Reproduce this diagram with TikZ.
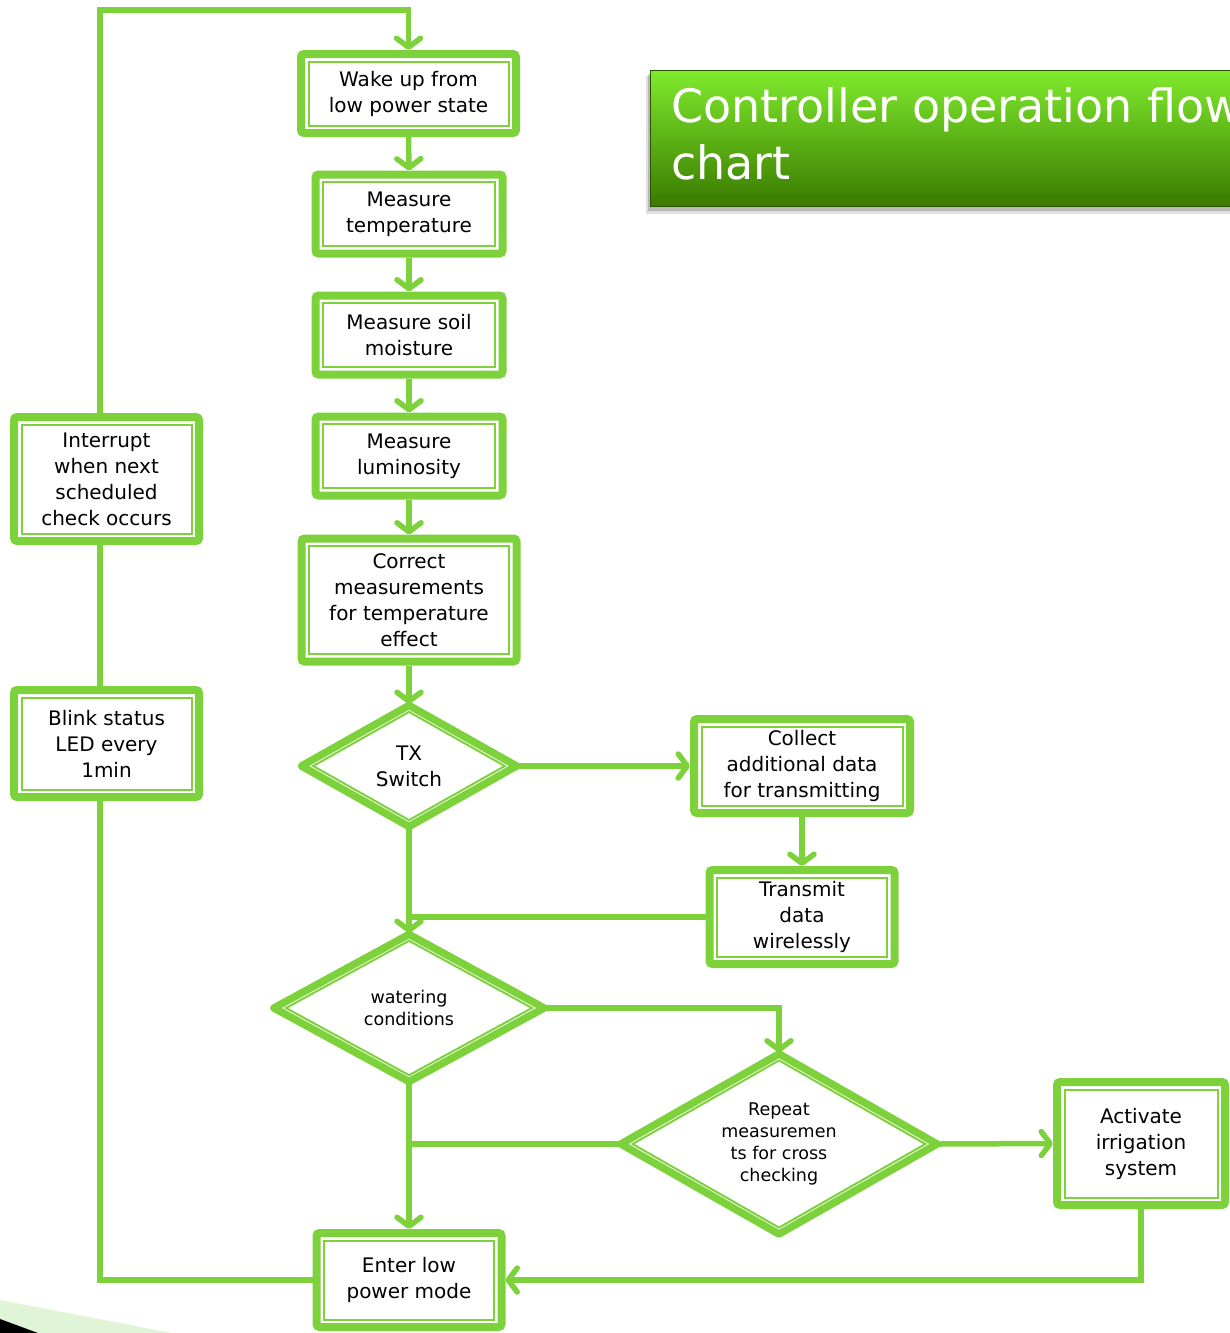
\documentclass[tikz,border=0pt]{standalone}
\usepackage{fontspec}
\setmainfont{DejaVu Sans}
\usetikzlibrary{arrows.meta,shapes.geometric,calc}
\definecolor{fg}{RGB}{125,210,60}
\definecolor{ttop}{RGB}{128,235,45}
\definecolor{tbot}{RGB}{58,122,0}
\definecolor{pale}{RGB}{224,244,216}
\tikzset{
  boxo/.style={draw=fg, line width=8pt, rounded corners=3pt, fill=white, align=center,
    inner sep=0pt, font=\fontsize{20}{26}\selectfont},
  boxi/.style={draw=fg, line width=2pt, inner sep=0pt, outer sep=0pt},
  diao/.style={diamond, draw=fg, line width=7.5pt, line join=round, fill=white, align=center,
    inner sep=0pt, outer sep=1pt, aspect=1.8},
  diai/.style={diamond, draw=fg, line width=2pt, inner sep=0pt, outer sep=0pt},
  conn/.style={draw=fg, line width=5.5pt},
  arr/.style={conn, -{Straight Barb[length=9pt,width=24pt,round]}},
  titletext/.style={anchor=north west, align=left, text=white, inner sep=0pt,
    font=\fontsize{46}{57}\selectfont},
}
% name, x, y, width, height, text
\newcommand\rbox[6]{%
  \node[boxo, minimum width=#4, minimum height=#5] (#1) at (#2,#3) {#6};
  \node[boxi, minimum width=#4-15, minimum height=#5-15] at (#2,#3) {};}
% name, x, y, W, H, inner W, inner H, font size, text
\newcommand\ddia[9]{%
  \node[diao, minimum width=#4, minimum height=#5, font=#8] (#1) at (#2,#3) {#9};
  \node[diai, minimum width=#6, minimum height=#7] at (#2,#3) {};}
\begin{document}
\begin{tikzpicture}[x=1pt,y=-1pt]
\useasboundingbox (0,0) rectangle (1230,1333);
\clip (0,0) rectangle (1230,1333);

% bottom-left decoration
\fill[pale] (0,1300) -- (172,1333) -- (0,1333) -- cycle;
\fill[black] (0,1319) -- (38,1333) -- (0,1333) -- cycle;

% title
\fill[black, opacity=0.12] (646,76) rectangle (1240,214);
\fill[black, opacity=0.18] (648,74) rectangle (1240,211);
\shade[top color=ttop, bottom color=tbot] (650,70) rectangle (1240,206);
\draw[tbot!70!black, line width=1pt] (1240,70) -- (650,70) -- (650,206) -- (1240,206);
\node[titletext] (title) at (671,87) {Controller operation flow\\chart};

% boxes
\rbox{wake}{408.5}{93.5}{215}{79}{Wake up from\\low power state}
\rbox{temp}{409}{214}{187}{79}{Measure\\temperature}
\rbox{soil}{409}{335}{187}{79}{Measure soil\\moisture}
\rbox{lum}{409}{456}{187}{79}{Measure\\luminosity}
\rbox{corr}{409}{600}{215}{123}{Correct\\measurements\\for temperature\\effect}
\rbox{coll}{802}{766}{216}{94}{Collect\\additional data\\for transmitting}
\rbox{trans}{802}{917}{185}{94}{Transmit\\data\\wirelessly}
\rbox{act}{1141}{1143.5}{168}{123}{Activate\\irrigation\\system}
\rbox{enter}{409}{1280}{185}{94}{Enter low\\power mode}
\rbox{intr}{106.5}{479}{185}{124}{Interrupt\\when next\\scheduled\\check occurs}
\rbox{blink}{106.5}{743.5}{185}{107}{Blink status\\LED every\\1min}

% decisions
\ddia{tx}{409}{766}{216}{122}{191.6}{108.2}{\fontsize{20}{26}\selectfont}{TX\\Switch}
\ddia{water}{409}{1008}{271}{148}{246}{134.4}{\fontsize{17.5}{22}\selectfont}{watering\\conditions}
\ddia{rep}{779}{1144}{317}{181}{292.8}{167.2}{\fontsize{17.5}{22}\selectfont}{Repeat\\measuremen\\ts for cross\\checking}

% helper coordinates
\coordinate (lx) at (100,0);
\coordinate (topy) at (0,10);

% connectors
\draw[arr] (intr.north -| lx) -- (lx |- topy) -| (wake.north);
\draw[conn] (intr.south -| lx) -- (blink.north -| lx);
\draw[conn] (blink.south -| lx) |- (enter.west);
\draw[arr] (wake.south) -- (temp.north);
\draw[arr] (temp.south) -- (soil.north);
\draw[arr] (soil.south) -- (lum.north);
\draw[arr] (lum.south) -- (corr.north);
\draw[arr] (corr.south) -- (tx.north);
\draw[arr] (tx.east) -- (coll.west);
\draw[arr] (tx.south) -- (water.north);
\draw[arr] (coll.south) -- (trans.north);
\draw[conn] (trans.west) -- (trans.west -| tx.south);
\draw[arr] (water.east) -| (rep.north);
\draw[arr] (water.south) -- (enter.north);
\draw[conn] (rep.west) -- (rep.west -| water.south);
\draw[arr] (rep.east) -- (act.west);
\draw[arr] (act.south) |- (enter.east);
\end{tikzpicture}
\end{document}
